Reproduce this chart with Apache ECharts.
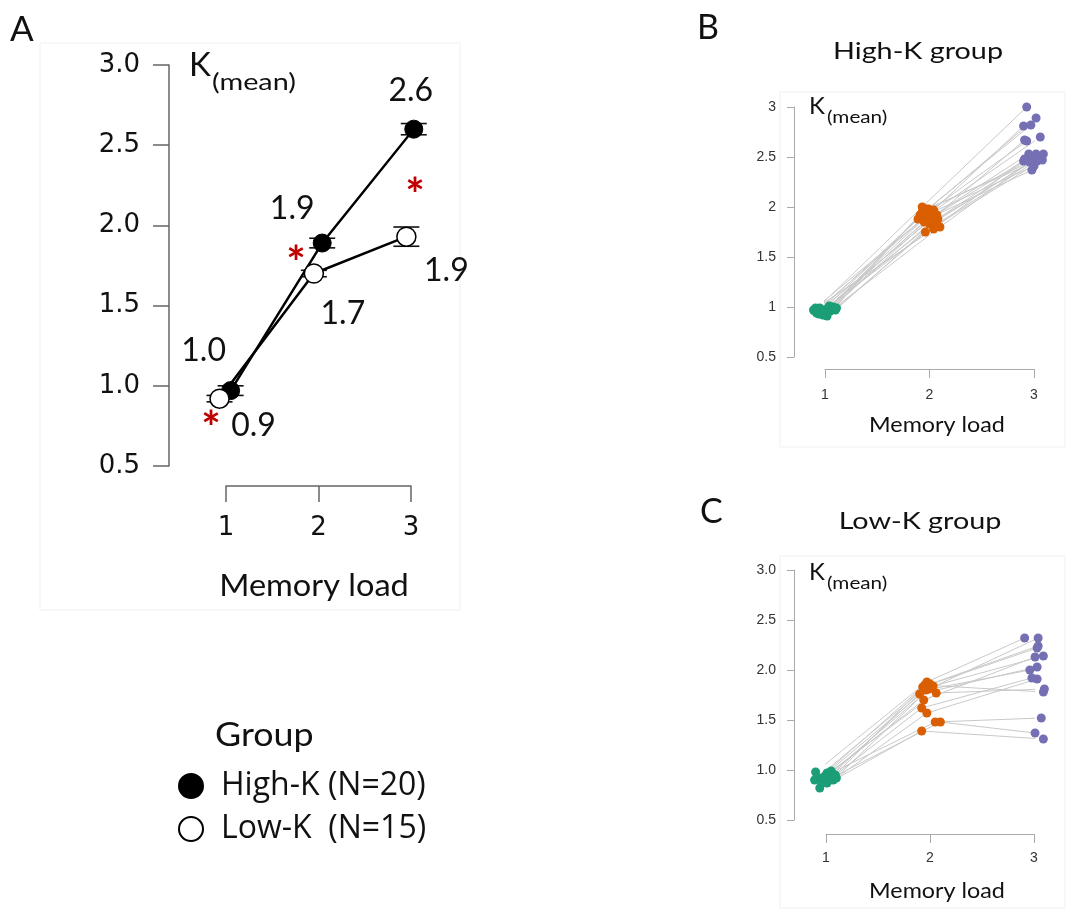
<!DOCTYPE html>
<html>
<head>
<meta charset="utf-8">
<script src="https://cdn.jsdelivr.net/npm/echarts@6/dist/echarts.min.js"></script>
<style>
  html, body { margin: 0; padding: 0; background: #fff; }
  #chart { width: 1075px; height: 913px; }
</style>
</head>
<body>
<div id="chart"></div>
<script>
// ---- Panel A: group means of K per memory load ----
const loads = [1, 2, 3];
const highMean = [0.97, 1.89, 2.60];
const highErr  = [0.03, 0.03, 0.035];
const highX    = [1.05, 2.04, 3.03];   // horizontally dodged load positions
const lowMean  = [0.92, 1.70, 1.93];
const lowErr   = [0.02, 0.02, 0.06];
const lowX     = [0.93, 1.95, 2.95];
const groupNames = ['High-K (N=20)', 'Low-K  (N=15)'];

// ---- Panel B: individual K, High-K group (20 subjects) ----
const highLoad1  = [0.96,0.96,0.94,0.92,0.99,0.94,0.97,0.99,1.00,0.97,0.96,0.99,0.97,0.91,0.92,1.00,0.93,0.97,0.99,1.01];
const highLoad1X = [0.90,0.94,0.97,1.00,0.95,0.92,0.98,1.03,1.06,1.10,1.05,1.11,0.89,1.02,0.98,1.08,0.94,1.01,0.91,1.04];
const highLoad2  = [2.00,1.98,1.97,1.92,1.90,1.92,1.88,1.87,1.83,1.85,1.80,1.75,1.78,1.95,1.98,1.90,1.88,1.85,1.93,1.83];
const highLoad2X = [1.93,1.99,2.04,1.91,1.96,2.07,1.89,1.97,2.00,2.05,2.10,1.96,2.04,1.93,1.97,2.02,2.08,1.95,1.99,2.07];
const highLoad3  = [3.00,2.89,2.81,2.82,2.70,2.67,2.66,2.53,2.53,2.53,2.48,2.47,2.48,2.45,2.46,2.37,2.50,2.46,2.41,2.44];
const highLoad3X = [2.93,3.02,2.90,2.97,3.06,2.91,2.93,2.95,3.02,3.09,3.00,3.08,2.91,2.96,3.03,2.98,3.05,2.90,3.00,2.99];

// ---- Panel C: individual K, Low-K group (15 subjects) ----
const lowLoad1  = [0.98,0.90,0.82,0.92,0.90,0.87,0.92,0.99,0.97,0.95,0.92,0.94,0.87,0.90,0.97];
const lowLoad1X = [0.90,0.89,0.94,0.94,0.97,1.01,1.02,1.05,1.04,1.09,1.10,0.99,0.96,1.07,1.01];
const lowLoad2  = [1.88,1.86,1.39,1.85,1.84,1.83,1.76,1.77,1.70,1.62,1.57,1.48,1.48,1.81,1.80];
const lowLoad2X = [1.97,2.00,1.92,1.95,2.03,1.93,1.90,2.06,1.94,1.92,1.97,2.05,2.10,1.99,1.96];
const lowLoad3  = [2.32,2.24,1.31,1.78,2.14,2.22,2.03,1.81,2.13,1.92,1.91,1.52,1.37,2.32,2.00];
const lowLoad3X = [2.91,3.04,3.09,3.09,3.09,3.03,3.03,3.10,3.01,2.98,3.03,3.07,3.01,3.04,2.96];

const loadColors = ['#1b9e77', '#d95f02', '#7570b3'];
const SANS = 'Liberation Sans, Arial, sans-serif';
const WIDE = 'DejaVu Sans, sans-serif';
const CAL = 'Lato, Open Sans, sans-serif';

const chart = echarts.init(document.getElementById('chart'), null, { renderer: 'canvas' });

// label placement around the mean markers (pixels from the marker centre)
const highLabelOffsets = [[-27, -40], [-30, -34], [-3, -38]];
const lowLabelOffsets  = [[34, 27], [29, 40], [40, 34]];

function meanData(xs, ys, offsets) {
  return xs.map((x, i) => ({
    value: [x, ys[i]],
    label: { position: 'inside', offset: offsets[i] }
  }));
}

function errorSeries(xs, ys, es) {
  return {
    type: 'custom', xAxisIndex: 0, yAxisIndex: 0, z: 2, clip: false,
    silent: true,
    data: xs.map((x, i) => [x, ys[i] - es[i], ys[i] + es[i]]),
    renderItem(params, api) {
      const x = api.value(0);
      const lo = api.coord([x, api.value(1)]);
      const hi = api.coord([x, api.value(2)]);
      const hw = 13;
      const st = { stroke: '#111', lineWidth: 1.6 };
      return {
        type: 'group',
        children: [
          { type: 'line', shape: { x1: lo[0], y1: lo[1], x2: hi[0], y2: hi[1] }, style: st },
          { type: 'line', shape: { x1: lo[0] - hw, y1: lo[1], x2: lo[0] + hw, y2: lo[1] }, style: st },
          { type: 'line', shape: { x1: hi[0] - hw, y1: hi[1], x2: hi[0] + hw, y2: hi[1] }, style: st }
        ]
      };
    }
  };
}

function subjectLines(gi, l1, x1, l2, x2, l3, x3) {
  return {
    type: 'lines', coordinateSystem: 'cartesian2d', xAxisIndex: gi, yAxisIndex: gi,
    polyline: true, silent: true, z: 1,
    lineStyle: { color: '#c9c9c9', width: 1, opacity: 1 },
    data: l1.map((v, i) => ({ coords: [[x1[i], v], [x2[i], l2[i]], [x3[i], l3[i]]] }))
  };
}

function dots(gi, xs, ys, color) {
  return {
    type: 'scatter', xAxisIndex: gi, yAxisIndex: gi, z: 3, clip: false,
    symbolSize: 9, itemStyle: { color: color, opacity: 1 },
    data: xs.map((x, i) => [x, ys[i]])
  };
}

function xAxisCfg(gi, offset, tickLen, margin, fontSize, font, color, labelColor, lw) {
  return {
    gridIndex: gi, type: 'value', min: 1, max: 3, interval: 1, offset: offset,
    axisLine: { show: true, onZero: false, lineStyle: { color: color, width: lw } },
    axisTick: { show: true, length: tickLen, lineStyle: { color: color, width: lw } },
    axisLabel: { margin: margin, fontSize: fontSize, color: labelColor, fontFamily: font },
    splitLine: { show: false }
  };
}

function yAxisCfg(gi, offset, tickLen, margin, fontSize, font, color, labelColor, lw, fmt) {
  return {
    gridIndex: gi, type: 'value', min: 0.5, max: 3, interval: 0.5, offset: offset,
    axisLine: { show: true, onZero: false, lineStyle: { color: color, width: lw } },
    axisTick: { show: true, length: tickLen, lineStyle: { color: color, width: lw } },
    axisLabel: { margin: margin, fontSize: fontSize, color: labelColor, fontFamily: font, formatter: fmt },
    splitLine: { show: false }
  };
}

// text helper; sx stretches the glyphs horizontally around the anchor
function txt(x, y, text, size, style, sx) {
  return {
    type: 'text', x: x, y: y, silent: true, scaleX: sx || 1,
    style: Object.assign({
      text: text, fontSize: size, fontFamily: CAL, fill: '#111',
      textAlign: 'left', textVerticalAlign: 'middle'
    }, style || {})
  };
}

const star = { textAlign: 'center', fill: '#c00000', fontWeight: 'bold' };

const option = {
  backgroundColor: '#fff',
  animation: false,
  grid: [
    { left: 226, top: 65, width: 185, height: 401 },
    { left: 825, top: 107, width: 209, height: 250 },
    { left: 826, top: 570, width: 208, height: 250 }
  ],
  xAxis: [
    xAxisCfg(0, 20, 16, 29, 26, WIDE, '#666', '#111', 1.5),
    xAxisCfg(1, 12, 9, 19, 14, SANS, '#aaa', '#333', 1),
    xAxisCfg(2, 14, 9, 17, 14, SANS, '#aaa', '#333', 1)
  ],
  yAxis: [
    yAxisCfg(0, 57, 16, 29, 26, WIDE, '#666', '#111', 1.5, v => v.toFixed(1)),
    yAxisCfg(1, 31, 7, 18, 14, SANS, '#aaa', '#333', 1, v => String(v)),
    yAxisCfg(2, 32, 7, 18, 14, SANS, '#aaa', '#333', 1, v => v.toFixed(1))
  ],
  legend: {
    data: groupNames, orient: 'vertical', left: 173, top: 765,
    icon: 'circle', itemWidth: 24, itemHeight: 24, itemGap: 11,
    textStyle: { fontSize: 32, fontFamily: 'Open Sans, Lato, sans-serif', color: '#111', padding: [0, 0, 0, 13] },
    selectedMode: false
  },
  series: [
    errorSeries(highX, highMean, highErr),
    errorSeries(lowX, lowMean, lowErr),
    {
      name: groupNames[0], type: 'line', xAxisIndex: 0, yAxisIndex: 0, z: 3, clip: false,
      symbol: 'circle', symbolSize: 18,
      itemStyle: { color: '#000', borderColor: '#000', borderWidth: 1 },
      lineStyle: { color: '#000', width: 2.5 },
      label: { show: true, fontSize: 32, fontFamily: CAL, color: '#111', formatter: p => p.value[1].toFixed(1) },
      data: meanData(highX, highMean, highLabelOffsets)
    },
    {
      name: groupNames[1], type: 'line', xAxisIndex: 0, yAxisIndex: 0, z: 4, clip: false,
      symbol: 'circle', symbolSize: 19,
      itemStyle: { color: '#fff', borderColor: '#000', borderWidth: 1.5 },
      lineStyle: { color: '#000', width: 2.5 },
      label: { show: true, fontSize: 32, fontFamily: CAL, color: '#111', formatter: p => p.value[1].toFixed(1) },
      data: meanData(lowX, lowMean, lowLabelOffsets)
    },
    subjectLines(1, highLoad1, highLoad1X, highLoad2, highLoad2X, highLoad3, highLoad3X),
    dots(1, highLoad1X, highLoad1, loadColors[0]),
    dots(1, highLoad2X, highLoad2, loadColors[1]),
    dots(1, highLoad3X, highLoad3, loadColors[2]),
    subjectLines(2, lowLoad1, lowLoad1X, lowLoad2, lowLoad2X, lowLoad3, lowLoad3X),
    dots(2, lowLoad1X, lowLoad1, loadColors[0]),
    dots(2, lowLoad2X, lowLoad2, loadColors[1]),
    dots(2, lowLoad3X, lowLoad3, loadColors[2])
  ],
  graphic: [
    // faint panel frames
    { type: 'rect', shape: { x: 40, y: 43, width: 420, height: 567 }, style: { fill: 'none', stroke: '#f0f0f0', lineWidth: 1 }, silent: true, z: -1 },
    { type: 'rect', shape: { x: 780, y: 92, width: 285, height: 355 }, style: { fill: 'none', stroke: '#f0f0f0', lineWidth: 1 }, silent: true, z: -1 },
    { type: 'rect', shape: { x: 780, y: 556, width: 285, height: 352 }, style: { fill: 'none', stroke: '#f0f0f0', lineWidth: 1 }, silent: true, z: -1 },

    // panel letters
    txt(10, 30, 'A', 35),
    txt(697, 28, 'B', 34),
    txt(700, 512, 'C', 34),

    // panel titles
    txt(918, 52, 'High-K group', 23, { textAlign: 'center' }, 1.25),
    txt(920, 522, 'Low-K group', 23, { textAlign: 'center' }, 1.25),

    // axis titles
    txt(314, 586, 'Memory load', 31, { textAlign: 'center' }, 1.05),
    txt(937, 425, 'Memory load', 22, { textAlign: 'center' }, 1.06),
    txt(937, 891, 'Memory load', 22, { textAlign: 'center' }, 1.06),

    txt(189, 65, 'K', 33),
    txt(212, 82, '(mean)', 24, null, 1.2),
    txt(809, 106, 'K', 24),
    txt(827, 117, '(mean)', 18, null, 1.15),
    txt(809, 572, 'K', 24),
    txt(827, 583, '(mean)', 18, null, 1.15),

    // significance markers
    txt(211, 429, '*', 46, star),
    txt(296, 264, '*', 46, star),
    txt(415, 196, '*', 46, star),

    // legend heading
    txt(215, 736, 'Group', 32, null, 1.12)
  ]
};

chart.setOption(option);
</script>
</body>
</html>
